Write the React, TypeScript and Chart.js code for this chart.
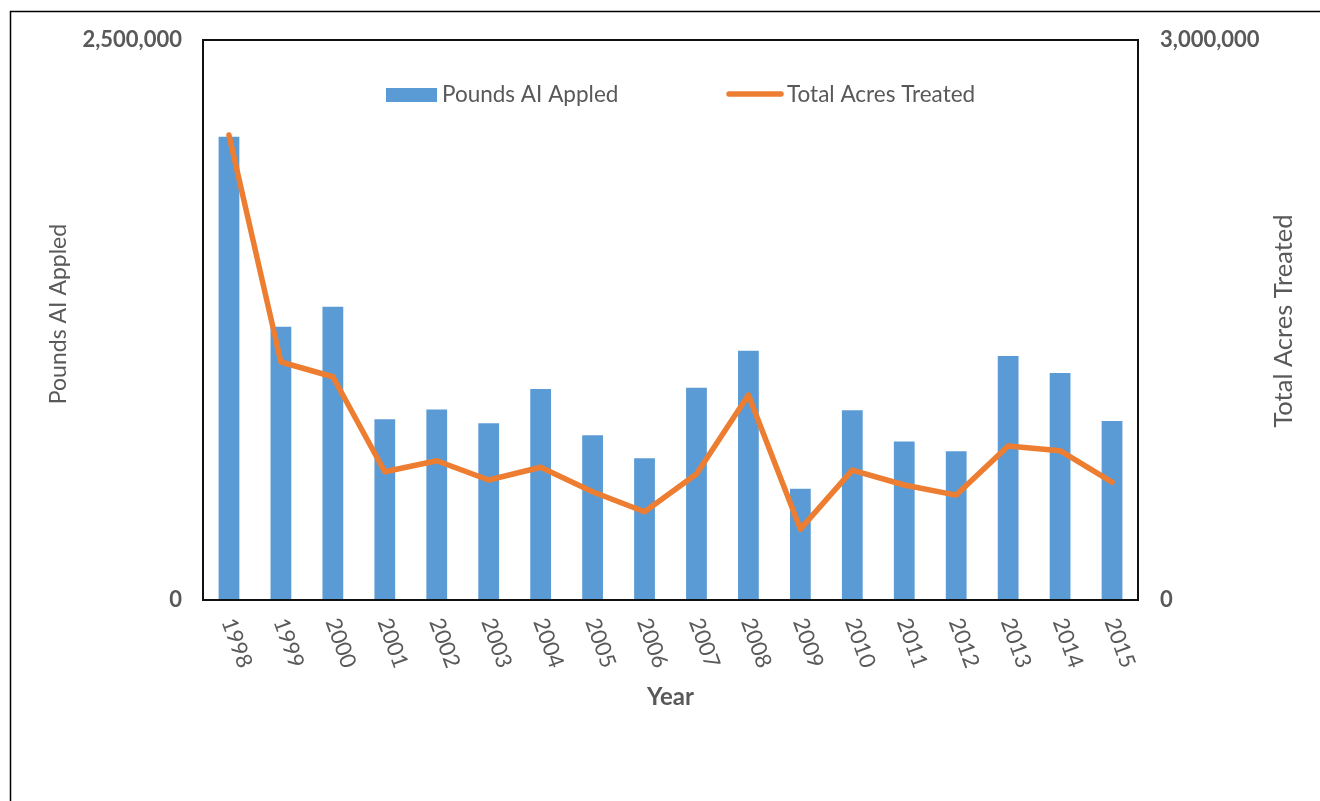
import React, { useEffect, useRef } from "react";
import { Chart, registerables } from "chart.js";

Chart.register(...registerables);

const years = ["1998", "1999", "2000", "2001", "2002", "2003", "2004", "2005", "2006", "2007", "2008", "2009", "2010", "2011", "2012", "2013", "2014", "2015"];
const poundsAI = [2068000, 1220000, 1309000, 807000, 850000, 789000, 942000, 735000, 633000, 948000, 1113000, 497000, 847000, 708000, 664000, 1089000, 1013000, 799000];
const acresTreated = [2491000, 1275000, 1196000, 687000, 746000, 643000, 711000, 580000, 473000, 675000, 1098000, 380000, 696000, 616000, 562000, 825000, 800000, 632000];
const leftAxisRange = [0, 2500000];
const rightAxisRange = [0, 3000000];

const seriesNames = ["Pounds AI Appled", "Total Acres Treated"];
const xTitle = "Year";

const FONT = "Lato, 'Noto Sans', 'DejaVu Sans', sans-serif";
const TEXT = "#595959";
const BLUE = "#5B9BD5";
const ORANGE = "#ED7D31";

const decorPlugin = {
  id: "decor",
  beforeDraw(chart: any) {
    const ctx = chart.ctx;
    ctx.save();
    ctx.strokeStyle = "#000";
    ctx.lineWidth = 1.5;
    ctx.beginPath();
    ctx.moveTo(10.5, chart.height);
    ctx.lineTo(10.5, 11.5);
    ctx.lineTo(chart.width, 11.5);
    ctx.stroke();
    ctx.restore();
  },
  afterDraw(chart: any) {
    const { ctx, chartArea: a, scales } = chart;
    ctx.save();
    // plot frame
    ctx.strokeStyle = "#111";
    ctx.lineWidth = 2;
    ctx.strokeRect(a.left, a.top, a.right - a.left, a.bottom - a.top);

    // x tick labels rotated clockwise
    ctx.fillStyle = TEXT;
    ctx.font = `22px ${FONT}`;
    ctx.textAlign = "left";
    ctx.textBaseline = "middle";
    years.forEach((y, i) => {
      const x = scales.x.getPixelForValue(i);
      ctx.save();
      ctx.translate(x - 1, a.bottom + 19);
      ctx.rotate((70 * Math.PI) / 180);
      ctx.fillText(y, 0, 0);
      ctx.restore();
    });

    // x title
    ctx.font = `bold 24px ${FONT}`;
    ctx.textAlign = "center";
    ctx.fillText(xTitle, (a.left + a.right) / 2, 697);

    // y titles
    ctx.font = `23px ${FONT}`;
    ctx.save();
    ctx.translate(59, 314);
    ctx.rotate(-Math.PI / 2);
    ctx.fillText(seriesNames[0], 0, 0);
    ctx.restore();
    ctx.font = `25.5px ${FONT}`;
    ctx.save();
    ctx.translate(1284, 321);
    ctx.rotate(-Math.PI / 2);
    ctx.fillText(seriesNames[1], 0, 0);
    ctx.restore();

    // legend
    ctx.font = `22.5px ${FONT}`;
    ctx.textAlign = "left";
    ctx.fillStyle = BLUE;
    ctx.fillRect(386, 88, 51, 14);
    ctx.fillStyle = TEXT;
    ctx.fillText(seriesNames[0], 442, 95);
    ctx.strokeStyle = ORANGE;
    ctx.lineWidth = 5.5;
    ctx.lineCap = "round";
    ctx.beginPath();
    ctx.moveTo(729, 94);
    ctx.lineTo(781, 94);
    ctx.stroke();
    ctx.fillText(seriesNames[1], 787, 95);
    ctx.restore();
  },
};

export default function App() {
  const ref = useRef<HTMLCanvasElement>(null);
  useEffect(() => {
    if (!ref.current) return;
    const chart = new Chart(ref.current, {
      data: {
        labels: years,
        datasets: [
          {
            type: "line",
            label: seriesNames[1],
            data: acresTreated,
            yAxisID: "y1",
            borderColor: ORANGE,
            backgroundColor: ORANGE,
            borderWidth: 5.5,
            pointRadius: 0,
            borderCapStyle: "round",
            borderJoinStyle: "round",
            tension: 0,
            order: 0,
          },
          {
            type: "bar",
            label: seriesNames[0],
            data: poundsAI,
            yAxisID: "y",
            backgroundColor: BLUE,
            barPercentage: 0.4,
            categoryPercentage: 1,
            order: 1,
          },
        ],
      } as any,
      options: {
        responsive: false,
        animation: false,
        layout: { padding: { top: 40, left: 0, right: 0, bottom: 0 } },
        plugins: { legend: { display: false }, tooltip: { enabled: false } },
        scales: {
          x: {
            type: "category",
            grid: { display: false, drawTicks: false },
            border: { display: false },
            ticks: { display: false },
            afterFit: (s: any) => { s.height = 201; },
          },
          y: {
            position: "left",
            min: leftAxisRange[0],
            max: leftAxisRange[1],
            grid: { display: false, drawTicks: false },
            border: { display: false },
            ticks: {
              stepSize: leftAxisRange[1] - leftAxisRange[0],
              padding: 21,
              color: TEXT,
              font: { family: FONT, size: 22, weight: "bold" },
              callback: (v: any) => Number(v).toLocaleString("en-US"),
            },
            afterFit: (s: any) => { s.width = 203; },
          },
          y1: {
            position: "right",
            min: rightAxisRange[0],
            max: rightAxisRange[1],
            grid: { display: false, drawTicks: false },
            border: { display: false },
            ticks: {
              stepSize: rightAxisRange[1] - rightAxisRange[0],
              padding: 22,
              color: TEXT,
              font: { family: FONT, size: 22, weight: "bold" },
              callback: (v: any) => Number(v).toLocaleString("en-US"),
            },
            afterFit: (s: any) => { s.width = 182; },
          },
        },
      } as any,
      plugins: [decorPlugin],
    });
    return () => chart.destroy();
  }, []);
  return (
    <div style={{ position: "absolute", left: 0, top: 0, width: 1320, height: 801, background: "#fff" }}>
      <canvas ref={ref} width={1320} height={801} style={{ display: "block" }} />
    </div>
  );
}
